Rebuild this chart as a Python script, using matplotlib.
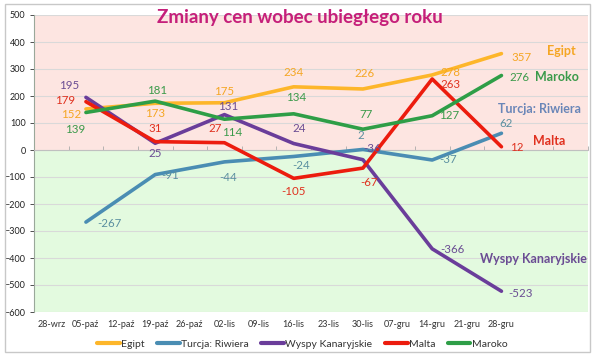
import matplotlib
matplotlib.use("Agg")
import matplotlib.pyplot as plt
from matplotlib.patches import Rectangle
import numpy as np

categories = ["28-wrz", "05-paź", "12-paź", "19-paź", "26-paź", "02-lis", "09-lis",
              "16-lis", "23-lis", "30-lis", "07-gru", "14-gru", "21-gru", "28-gru"]
point_idx = [1, 3, 5, 7, 9, 11, 13]

egipt = [152, 173, 175, 234, 226, 278, 357]
turcja = [-267, -91, -44, -24, 2, -37, 62]
wyspy = [195, 25, 131, 24, -36, -366, -523]
malta = [179, 31, 27, -105, -67, 263, 12]
maroko = [139, 181, 114, 134, 77, 127, 276]

series_names = ["Egipt", "Turcja: Riwiera", "Wyspy Kanaryjskie", "Malta", "Maroko"]
series_vals = [egipt, turcja, wyspy, malta, maroko]
colors = ["#FDB62A", "#4A8DB3", "#6A3D9A", "#EC1C0E", "#2E9E47"]
label_colors = ["#F5A623", "#5A8FA0", "#6A4C93", "#E0301E", "#3A9A4A"]
right_colors = ["#F5A623", "#6A86B8", "#6A4C93", "#E0301E", "#3A9A4A"]

# label offsets in pixels per series, per point
offsets = {
    "Egipt": [(-15, -6), (0, -10), (0, 11), (0, 14), (2, 15), (18, 2), (20, -4)],
    "Turcja: Riwiera": [(23, -1), (15, -1), (4, -16), (7, -9), (-2, 14), (16, 0), (5, 10)],
    "Wyspy Kanaryjskie": [(-17, 12), (0, -10), (4, 8), (5, 15), (9, 11), (20, -1), (19, -2)],
    "Malta": [(-21, 1), (0, 13), (-9, 14), (0, -13), (6, -14), (18, -6), (15, -1)],
    "Maroko": [(-11, -17), (2, 11), (8, -13), (2, 16), (3, 15), (17, 0), (18, -2)],
}

right_labels = {
    "Egipt": (561, 51),
    "Maroko": (557, 77),
    "Turcja: Riwiera": (540, 109),
    "Malta": (549, 141),
    "Wyspy Kanaryjskie": (533, 259),
}

plt.rcParams['font.family'] = ['Lato', 'DejaVu Sans']

fig = plt.figure(figsize=(6, 3.6), dpi=100)
fig.patch.set_facecolor("white")
fig.patches.append(Rectangle((5/600, 1 - 352/360), 585/600, 348/360,
                             transform=fig.transFigure, fill=False,
                             edgecolor="#c8c8c8", linewidth=1.0))

ax = fig.add_axes([34/600, 1 - 312/360, 554/600, 297/360])
ax.set_xlim(-0.5, 15.5)
ax.set_ylim(-600, 500)

ax.axhspan(0, 500, color="#FDE5E1", zorder=0, lw=0)
ax.axhspan(-600, 0, color="#E3FADF", zorder=0, lw=0)

ax.set_yticks(np.arange(-600, 501, 100))
ax.yaxis.grid(True, color="#d9d9d9", linewidth=0.8)
ax.set_axisbelow(True)
ax.tick_params(axis='y', labelsize=6.5, colors="#333333", length=3, width=0.6, pad=3)
for lbl in ax.get_yticklabels():
    lbl.set_color("#222222")

for s in ["top", "right"]:
    ax.spines[s].set_visible(False)
ax.spines["left"].set_color("#9aa89a")
ax.spines["bottom"].set_position(("data", 0))
ax.spines["bottom"].set_color("#c0c0c0")
ax.set_xticks(np.arange(-0.5, 16, 1.0))
ax.set_xticklabels([])
ax.tick_params(axis='x', length=3, width=0.6, colors="#aaaaaa", direction="in")

sec = ax.secondary_xaxis(0)
sec.set_xticks(range(len(categories)))
sec.set_xticklabels(categories, fontsize=6.5, color="#333333")
sec.tick_params(length=0, pad=6)
sec.spines["bottom"].set_visible(False)

handles = []
for name, vals, c, lc in zip(series_names, series_vals, colors, label_colors):
    h, = ax.plot(point_idx, vals, color=c, lw=2.6, solid_capstyle="round",
                 solid_joinstyle="round", label=name, zorder=3)
    handles.append(h)
    for (xi, v, off) in zip(point_idx, vals, offsets[name]):
        ax.annotate(str(v), (xi, v), xytext=off, textcoords="offset pixels",
                    ha="center", va="center", fontsize=8.3, color=lc, zorder=5)

for name, c in zip(series_names, right_colors):
    x, y = right_labels[name]
    fig.text(x / 600, 1 - y / 360, name, ha="center", va="center",
             fontsize=9, fontweight="bold", color=c)

fig.text(300 / 600, 1 - 17 / 360, "Zmiany cen wobec ubiegłego roku",
         ha="center", va="center", fontsize=13.5, fontweight="bold", color="#C51F7A")

leg = fig.legend(handles=handles, labels=series_names, loc="center",
                 bbox_to_anchor=(302 / 600, 1 - 344 / 360), ncol=5, frameon=False,
                 fontsize=7.5, handlelength=2.2, handletextpad=0.1, columnspacing=1.2)
for t in leg.get_texts():
    t.set_color("#333333")
for l in leg.get_lines():
    l.set_linewidth(3)

fig.savefig("out.png", dpi=100)
